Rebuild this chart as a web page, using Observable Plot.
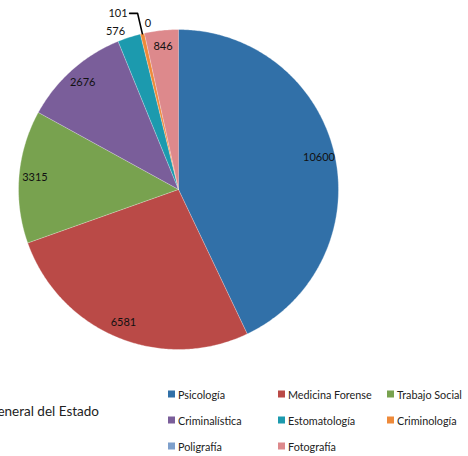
<!DOCTYPE html>
<html>
<head>
<meta charset="utf-8">
<script src="https://cdn.jsdelivr.net/npm/d3@7"></script>
<script src="https://cdn.jsdelivr.net/npm/@observablehq/plot@0.6"></script>
<style>
  html, body { margin: 0; padding: 0; background: #fff; }
  #wrap { position: relative; width: 468px; height: 456px; overflow: hidden; font-family: Lato, "Open Sans", sans-serif; }
  #chart { position: absolute; left: 0; top: 0; }
  #title { position: absolute; right: 369px; top: 403px; font-size: 13.5px; color: #222; white-space: nowrap; }
  .leg { position: absolute; display: flex; align-items: center; font-size: 10.8px; color: #222; white-space: nowrap; transform: translateY(-50%); }
  .leg span.sw { width: 7px; height: 7px; margin-right: 3px; display: inline-block; }
</style>
</head>
<body>
<div id="wrap">
  <div id="chart"></div>
  <div id="title">Fiscalía General del Estado</div>
</div>
<script>
const categories = ["Psicología", "Medicina Forense", "Trabajo Social", "Criminalística", "Estomatología", "Criminología", "Poligrafía", "Fotografía"];
const values = [10600, 6581, 3315, 2676, 576, 101, 0, 846];
const palette = ["#3170A8", "#BA4A47", "#78A24F", "#7A5E9A", "#1C9AAE", "#EE8A3A", "#7EA0CC", "#DD898C"];

const data = categories.map((c, i) => ({category: c, value: values[i]}));
const total = d3.sum(values);
const arcs = d3.pie().sort(null).value(d => d.value)(data);

const pt = (a, r) => ({x: Math.sin(a) * r, y: Math.cos(a) * r});

// slice outlines
const slicePts = [];
for (const s of arcs) {
  if (s.endAngle - s.startAngle <= 0) continue;
  slicePts.push({category: s.data.category, ...pt(0, 0)});
  const n = Math.max(2, Math.ceil((s.endAngle - s.startAngle) / 0.01));
  for (let k = 0; k <= n; k++) {
    const a = s.startAngle + (s.endAngle - s.startAngle) * k / n;
    slicePts.push({category: s.data.category, ...pt(a, 1)});
  }
}

// labels
const inside = [], outsideEnd = [], outsideStart = [], leaderLabels = [], leaders = [];
for (const s of arcs) {
  const mid = (s.startAngle + s.endAngle) / 2;
  const share = s.data.value / total;
  const txt = String(s.data.value);
  if (share >= 0.03) {
    inside.push({text: txt, ...pt(mid, 0.9)});
  } else if (s.data.value === 0) {
    outsideStart.push({text: txt, ...pt(mid, 1.06)});
  } else if (share < 0.01) {
    const edge = pt(mid, 1.0), elbow = pt(mid, 1.13);
    const end = {x: elbow.x - 0.05, y: elbow.y};
    leaders.push({id: txt, ...edge}, {id: txt, ...elbow}, {id: txt, ...end});
    leaderLabels.push({text: txt, ...end});
  } else {
    outsideEnd.push({text: txt, ...pt(mid, 1.04)});
  }
}

const font = {fontFamily: "Lato, 'Open Sans', sans-serif", fontSize: 11, fill: "#111"};

const plot = Plot.plot({
  width: 468,
  height: 370,
  margin: 0,
  x: {domain: [-1, 1], range: [18, 338], axis: null},
  y: {domain: [-1, 1], range: [349, 29], axis: null},
  color: {domain: categories, range: palette},
  style: {background: "transparent"},
  marks: [
    Plot.line(slicePts, {x: "x", y: "y", z: "category", fill: "category", stroke: "white", strokeOpacity: 0.45, strokeWidth: 0.7, curve: "linear"}),
    Plot.line(leaders, {x: "x", y: "y", z: "id", stroke: "#000", strokeWidth: 1.6}),
    Plot.text(inside, {x: "x", y: "y", text: "text", ...font}),
    Plot.text(outsideEnd, {x: "x", y: "y", text: "text", textAnchor: "end", dx: -2, ...font}),
    Plot.text(outsideStart, {x: "x", y: "y", text: "text", textAnchor: "start", dx: 2.5, ...font}),
    Plot.text(leaderLabels, {x: "x", y: "y", text: "text", textAnchor: "end", dx: -2, ...font})
  ]
});
document.getElementById("chart").appendChild(plot);

// legend (3 columns, row-major)
const colX = [168, 278, 387];
const rowY = [394, 420, 446];
const wrap = document.getElementById("wrap");
categories.forEach((c, i) => {
  const div = document.createElement("div");
  div.className = "leg";
  div.style.left = colX[i % 3] + "px";
  div.style.top = rowY[Math.floor(i / 3)] + "px";
  const sw = document.createElement("span");
  sw.className = "sw";
  sw.style.background = palette[i];
  div.appendChild(sw);
  div.appendChild(document.createTextNode(c));
  wrap.appendChild(div);
});
</script>
</body>
</html>
